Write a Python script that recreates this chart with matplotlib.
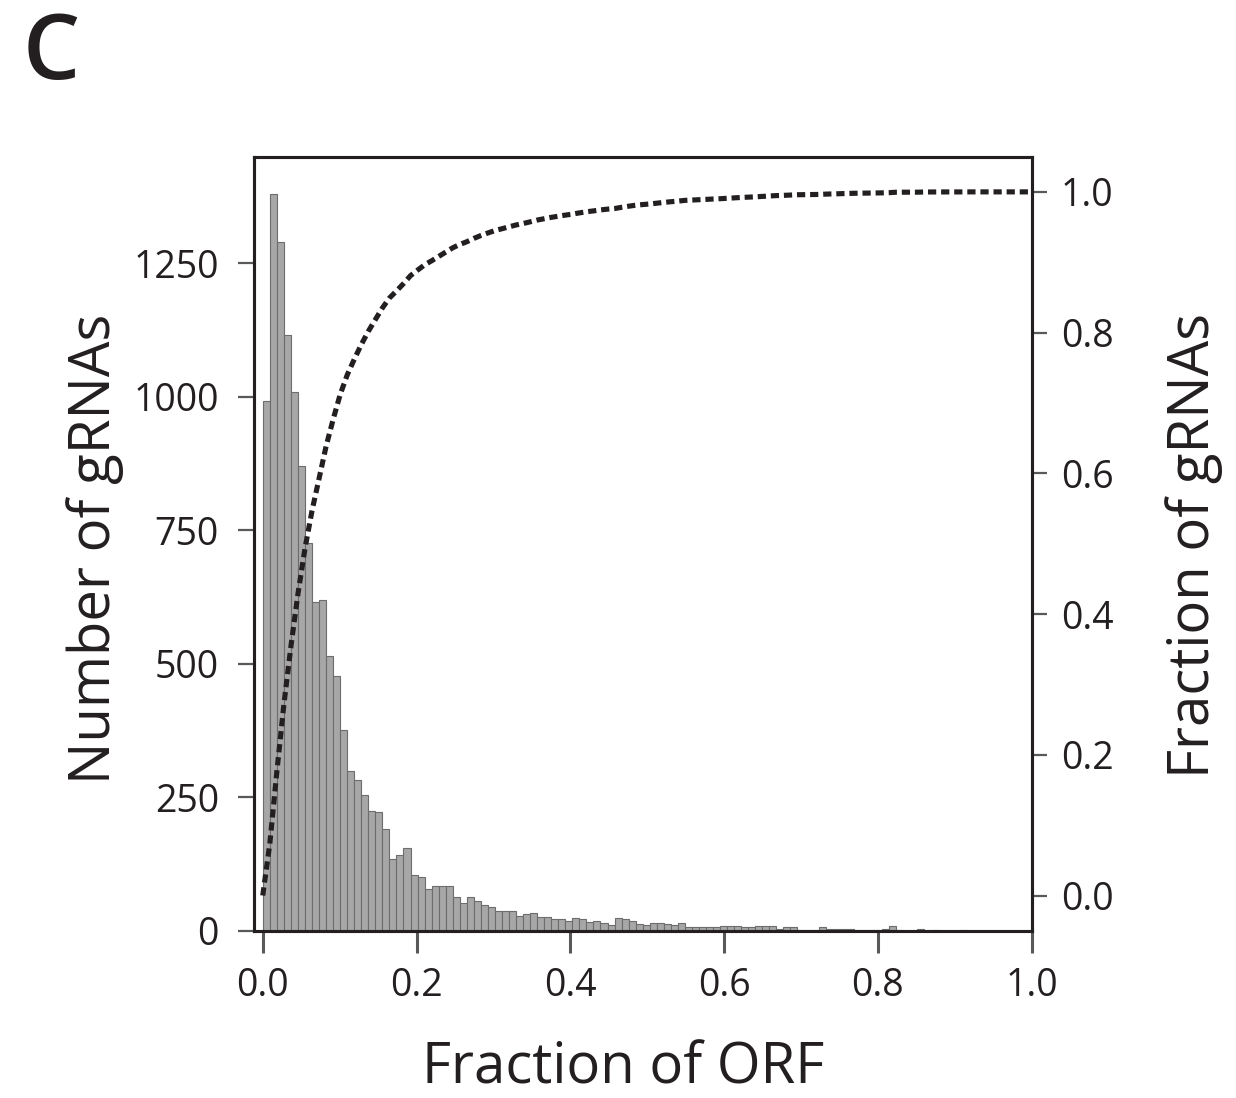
import numpy as np
import matplotlib
matplotlib.use("Agg")
import matplotlib.pyplot as plt

plt.rcParams["font.family"] = ["Open Sans", "DejaVu Sans"]

# gRNA counts per ORF-fraction bin (100 bins starting at 0)
bin_width = 0.00915
counts = [
    992, 1380, 1290, 1116, 1009, 871, 726, 615, 620, 515,
    478, 376, 300, 283, 255, 225, 223, 191, 135, 141,
    154, 105, 101, 79, 83, 83, 83, 64, 52, 64,
    56, 49, 45, 36, 36, 36, 28, 32, 34, 26,
    26, 22, 21, 19, 24, 21, 17, 19, 15, 11,
    24, 21, 19, 13, 11, 15, 15, 13, 11, 15,
    6, 7, 6, 7, 6, 8, 8, 8, 6, 6,
    8, 8, 8, 4, 6, 6, 2, 2, 2, 6,
    4, 4, 4, 4, 2, 2, 2, 2, 4, 8,
    1, 0, 0, 4, 0, 1, 0, 0, 0, 1,
]
left_ticks = [0, 250, 500, 750, 1000, 1250]
right_ticks = [0.0, 0.2, 0.4, 0.6, 0.8, 1.0]
x_ticks = [0.0, 0.2, 0.4, 0.6, 0.8, 1.0]

ink = "#231f20"
tick_col = "#58595b"

counts = np.array(counts)
edges = np.arange(len(counts) + 1) * bin_width
cdf = np.concatenate([[0], np.cumsum(counts)]) / counts.sum()
cdf_x = np.append(edges, 1.0)
cdf_y = np.append(cdf, 1.0)

fig = plt.figure(figsize=(12.36, 10.98), dpi=100)
ax = fig.add_axes([254.3 / 1236, 1 - 930.7 / 1098, 777.4 / 1236, 774.0 / 1098])

ax.bar(edges[:-1], counts, width=bin_width, align="edge",
       color="#a7a7a7", edgecolor="#6d6d6d", linewidth=0.8, zorder=2)
ax.set_xlim(-0.011, 1.0)
ax.set_ylim(0, 1450)
ax.set_xticks(x_ticks)
ax.set_xticklabels([f"{t:.1f}" for t in x_ticks])
ax.set_yticks(left_ticks)
ax.tick_params(axis="x", length=16, width=2.2, color=tick_col, pad=10,
               labelsize=27, labelcolor=ink)
ax.tick_params(axis="y", length=11.5, width=1.6, color=tick_col, pad=14,
               labelsize=27, labelcolor=ink)
for s in ax.spines.values():
    s.set_linewidth(2.2)
    s.set_color(ink)

ax2 = ax.twinx()
ax2.plot(cdf_x, cdf_y, color=ink, linewidth=3.7, dashes=(1.6, 0.95), zorder=3)
ax2.set_ylim(-0.05, 1.05)
ax2.set_yticks(right_ticks)
ax2.set_yticklabels([f"{t:.1f}" for t in right_ticks])
ax2.tick_params(axis="y", length=11, width=1.6, color=tick_col, pad=10,
                labelsize=27, labelcolor=ink)
for s in ax2.spines.values():
    s.set_linewidth(2.2)
    s.set_color(ink)

fig.text(623.5 / 1236, 1 - 1084 / 1098, "Fraction of ORF", fontsize=40.5,
         color=ink, ha="center", va="baseline")
fig.text(95 / 1236, 1 - 549 / 1098, "Number of gRNAs", fontsize=40.5,
         color=ink, ha="center", va="center", rotation=90)
fig.text(1194 / 1236, 1 - 546 / 1098, "Fraction of gRNAs", fontsize=40.5,
         color=ink, ha="center", va="center", rotation=90)
fig.text(23 / 1236, 1 - 10 / 1098, "C", fontsize=65, fontweight="semibold",
         color=ink, ha="left", va="top")

fig.savefig("out.png", dpi=100)
